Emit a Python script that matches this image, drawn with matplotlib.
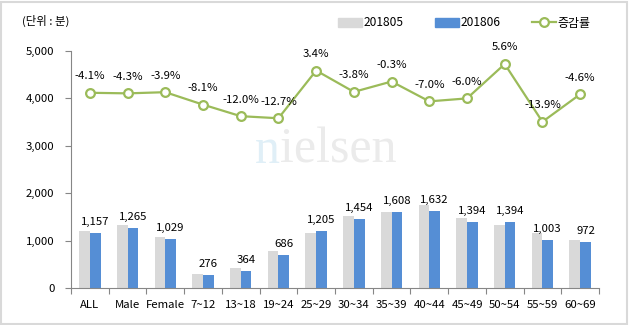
import matplotlib
matplotlib.use("Agg")
import matplotlib.pyplot as plt
from matplotlib.patches import Rectangle, Patch
from matplotlib.lines import Line2D

plt.rcParams['font.family'] = ['Noto Sans CJK KR', 'DejaVu Sans']

categories = ["ALL", "Male", "Female", "7~12", "13~18", "19~24", "25~29",
              "30~34", "35~39", "40~44", "45~49", "50~54", "55~59", "60~69"]
may_values = [1206, 1322, 1071, 300, 414, 786, 1165,
              1511, 1613, 1755, 1483, 1320, 1165, 1019]
june_values = [1157, 1265, 1029, 276, 364, 686, 1205,
               1454, 1608, 1632, 1394, 1394, 1003, 972]
change_rate = [-4.1, -4.3, -3.9, -8.1, -12.0, -12.7, 3.4,
               -3.8, -0.3, -7.0, -6.0, 5.6, -13.9, -4.6]
series_names = ["201805", "201806", "증감률"]

GREY = "#D9D9D9"
BLUE = "#558ED5"
GREEN = "#9BBB59"
AXIS = "#868686"
FS = 8.2

W, H = 630, 325
fig = plt.figure(figsize=(W / 100, H / 100), dpi=100)
ax = fig.add_axes([71 / W, 1 - 288 / H, (599 - 71) / W, (288 - 51) / H])

x = list(range(len(categories)))
bw = 0.284
ax.bar([i - bw / 2 for i in x], may_values, width=bw, color=GREY, zorder=2,
       label=series_names[0])
ax.bar([i + bw / 2 for i in x], june_values, width=bw, color=BLUE, zorder=2,
       label=series_names[1])
for i, v in zip(x, june_values):
    ax.annotate(f"{v:,}", (i + bw / 2, v), xytext=(0, 8), textcoords="offset points",
                ha="center", va="center", fontsize=FS, color="black")

ax.set_xlim(-0.5, len(categories) - 0.5)
ax.set_ylim(0, 5000)
ax.set_yticks(range(0, 5001, 1000))
ax.set_yticklabels([f"{v:,}" for v in range(0, 5001, 1000)])
ax.set_xticks([i - 0.5 for i in range(len(categories) + 1)])
ax.set_xticklabels([])
ax.set_xticks(x, minor=True)
ax.set_xticklabels(categories, minor=True)
ax.tick_params(axis="x", which="major", length=4, color=AXIS, width=0.8)
ax.tick_params(axis="x", which="minor", length=0, pad=9, labelsize=FS)
ax.tick_params(axis="y", length=4, color=AXIS, width=0.8, pad=8, labelsize=FS)
for s in ["top", "right"]:
    ax.spines[s].set_visible(False)
for s in ["left", "bottom"]:
    ax.spines[s].set_color(AXIS)
    ax.spines[s].set_linewidth(0.8)

# secondary scale for the change rate line (hidden)
ax2 = ax.twinx()
ax2.set_ylim(-70, 10)
ax2.axis("off")
ax2.plot(x, change_rate, color=GREEN, lw=1.6, marker="o", ms=6.3,
         mfc="white", mec=GREEN, mew=1.6, zorder=3, label=series_names[2])
for i, v in zip(x, change_rate):
    ax2.annotate(f"{v:.1f}%", (i, v), xytext=(0, 12), textcoords="offset points",
                 ha="center", va="center", fontsize=FS, color="black")

# watermark: first letter tinted blue, rest grey
x0 = 255 / W
yb = 1 - 163 / H
first = fig.text(x0, yb, "n", family="Liberation Serif", fontsize=36,
                 color="#E0EFF7", ha="left", va="baseline", zorder=0)
renderer = fig.canvas.get_renderer()
bb = first.get_window_extent(renderer=renderer)
fig.text(bb.x1 / W, yb, "ielsen", family="Liberation Serif", fontsize=36,
         color="#EBEBEB", ha="left", va="baseline", zorder=0)
dot_x = [(260 + k * (393 - 260) / 8) / W for k in range(9)]
fig.add_artist(Line2D(dot_x, [1 - 175 / H] * 9, transform=fig.transFigure,
                      ls="none", marker="o", ms=3.6, color="#E8E8E8", zorder=0))

# unit label
fig.text(22 / W, 1 - 21 / H, "(단위 : 분)", fontsize=FS, ha="left", va="center")

# legend
handles = [Patch(color=GREY), Patch(color=BLUE),
           Line2D([], [], color=GREEN, lw=1.6, marker="o", ms=6.3,
                  mfc="white", mec=GREEN, mew=1.6)]
fig.legend(handles, series_names, loc="center left",
           bbox_to_anchor=(338 / W, 1 - 23 / H), ncol=3, frameon=False,
           fontsize=8.6, handlelength=2.0, handletextpad=0.17, columnspacing=2.6,
           borderaxespad=0, borderpad=0)

# outer border
fig.add_artist(Rectangle((1 / W, 1 / H), 626 / W, 322 / H, transform=fig.transFigure,
                         fill=False, ec="#D9D9D9", lw=1.5))

fig.savefig("out.png", dpi=100)
